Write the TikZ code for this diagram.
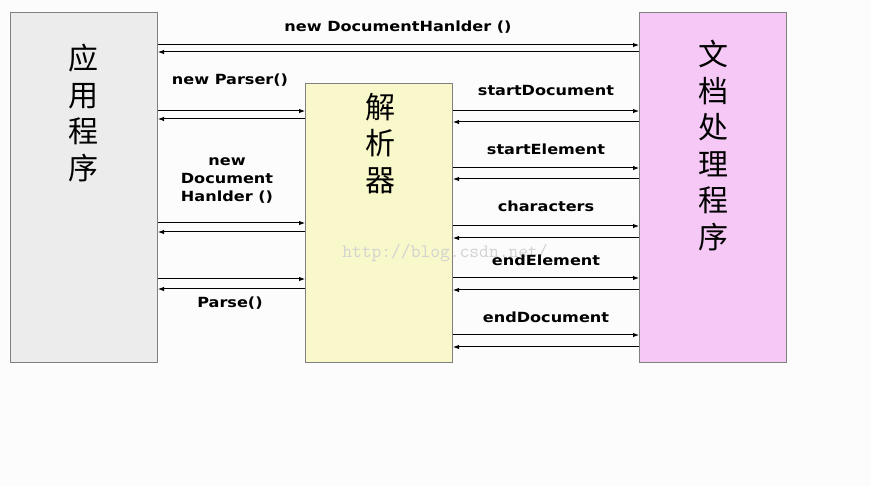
\documentclass[tikz,border=0pt]{standalone}
\usepackage{fontspec}
\setsansfont{DejaVu Sans}[BoldFeatures={FakeStretch=1.15}]
\newfontfamily\cjk{Noto Sans CJK SC}
\usetikzlibrary{arrows.meta}
\definecolor{appgray}{HTML}{ECECEC}
\definecolor{parseryellow}{HTML}{F8F8CA}
\definecolor{handlerpink}{HTML}{F5C8F5}
\begin{document}
\begin{tikzpicture}[x=1pt,y=-1pt,
    box/.style={draw=gray,line width=1pt,minimum width=147pt,anchor=north west,inner sep=0pt},
    call/.style={-{Latex[length=6pt,width=4.5pt]},line width=1pt},
    lbl/.style={font=\sffamily\bfseries\fontsize{14}{18}\selectfont,align=center,inner sep=0pt},
    hz/.style={font=\cjk\fontsize{30}{36.5}\selectfont,align=center,anchor=north,inner sep=0pt}]
    \fill[white!98!gray] (0,0) rectangle (871,486);
    \node[box,fill=appgray,minimum height=350pt] (app) at (10,12) {};
    \node[box,fill=parseryellow,minimum height=279pt] (parser) at (305,83) {};
    \node[box,fill=handlerpink,minimum height=350pt] (handler) at (639,12) {};
    \node[hz] (appname) at (83,44) {应\\用\\程\\序};
    \node[hz] (parsername) at (380,93) {解\\析\\器};
    \node[hz] (handlername) at (713,40) {文\\档\\处\\理\\程\\序};
    \node[font=\ttfamily\fontsize{19}{19}\selectfont,text=gray!35] (mark) at (445,253) {http://blog.csdn.net/};
    % application <-> document handler
    \draw[call] (app.east |- 0,45) -- (handler.west |- 0,45);
    \draw[call] (handler.west |- 0,52) -- (app.east |- 0,52);
    \node[lbl] (newhandler) at (398,27) {new DocumentHanlder ()};
    % application <-> parser
    \foreach \y in {111,223,279} \draw[call] (app.east |- 0,\y) -- (parser.west |- 0,\y);
    \foreach \y in {119,232,289} \draw[call] (parser.west |- 0,\y) -- (app.east |- 0,\y);
    \node[lbl] (newparser) at (230,80) {new Parser()};
    \node[lbl] (sethandler) at (227,181) {new\\Document\\Hanlder ()};
    \node[lbl] (parse) at (230,303) {Parse()};
    % parser <-> document handler
    \foreach \y in {111,168,226,278,335} \draw[call] (parser.east |- 0,\y) -- (handler.west |- 0,\y);
    \foreach \y in {122,179,238,290,347} \draw[call] (handler.west |- 0,\y) -- (parser.east |- 0,\y);
    \node[lbl] (startdoc) at (546,90) {startDocument};
    \node[lbl] (startel) at (546,149) {startElement};
    \node[lbl] (chars) at (546,206) {characters};
    \node[lbl] (endel) at (546,260) {endElement};
    \node[lbl] (enddoc) at (546,317) {endDocument};
\end{tikzpicture}
\end{document}
